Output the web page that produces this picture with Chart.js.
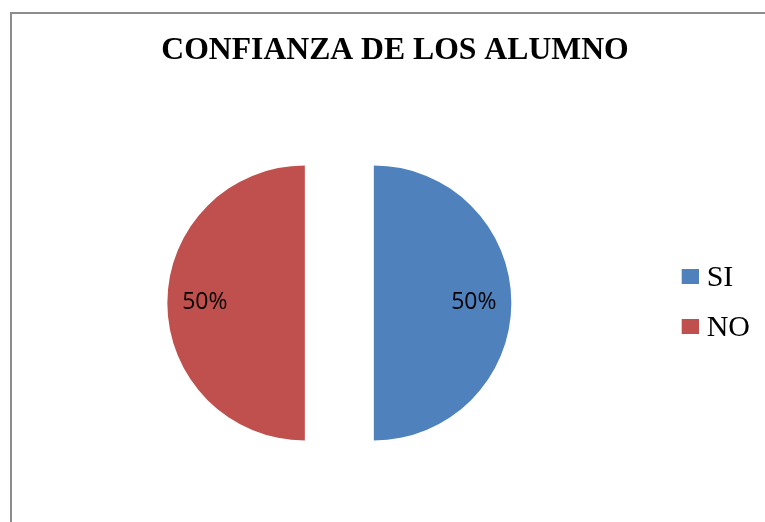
<!DOCTYPE html>
<html>
<head>
<meta charset="utf-8">
<script src="https://cdn.jsdelivr.net/npm/chart.js@4.4.0/dist/chart.umd.min.js"></script>
<style>
  html, body { margin: 0; padding: 0; background: #fff; overflow: hidden; }
  #frame { position: absolute; left: 10px; top: 12px; width: 800px; height: 600px; border: 2px solid #8c8c8c; }
  #myChart { position: absolute; left: 0; top: 0; }
</style>
</head>
<body>
<div id="frame"></div>
<canvas id="myChart" width="765" height="522"></canvas>
<script>
const chartTitle = 'CONFIANZA DE LOS ALUMNO';
const categories = ['SI', 'NO'];
const values = [50, 50];
const colors = ['#4F81BD', '#C0504D'];

// exploded halves: offset moves each half 34.5px out, the negative spacing
// cancels the angle trimming so the cut edges stay straight
const sliceOffset = 138;
const sliceSpacing = -3.4514;
const pieRadius = 104.73;

// legend swatch, drawn right of the default box spot
function swatch(color) {
    const c = document.createElement('canvas');
    c.width = 37;
    c.height = 18;
    const g = c.getContext('2d');
    g.fillStyle = color;
    g.fillRect(20, 0, 17, 15);
    return c;
}

const pctLabels = {
    id: 'pctLabels',
    afterDatasetsDraw(chart) {
        const ctx = chart.ctx;
        const meta = chart.getDatasetMeta(0);
        const total = values.reduce((a, b) => a + b, 0);
        ctx.save();
        ctx.font = '23px "Open Sans"';
        ctx.fillStyle = '#000';
        ctx.textAlign = 'center';
        ctx.textBaseline = 'middle';
        meta.data.forEach((arc, i) => {
            const p = arc.getProps(['x', 'y', 'startAngle', 'endAngle'], true);
            const mid = (p.startAngle + p.endAngle) / 2;
            const shift = sliceOffset / 4;
            const dist = shift + 137.5 * 0.727;
            const txt = Math.round(values[i] / total * 100) + '%';
            ctx.fillText(txt, p.x + Math.cos(mid) * dist, p.y + Math.sin(mid) * dist);
        });
        ctx.restore();
    }
};

window.addEventListener('load', setup);

function setup() {
    const ctx = document.getElementById('myChart').getContext('2d');
    const baseLabels = (Chart.overrides.pie || Chart.overrides.doughnut).plugins.legend.labels.generateLabels;
    new Chart(ctx, {
        type: 'pie',
        data: {
            labels: categories,
            datasets: [{
                data: values,
                backgroundColor: colors,
                borderWidth: 0,
                offset: sliceOffset,
                spacing: sliceSpacing,
                hoverOffset: 0
            }]
        },
        options: {
            responsive: false,
            animation: false,
            devicePixelRatio: 1,
            radius: pieRadius,
            layout: { padding: { left: 30, right: 5, top: 0, bottom: 6.4 } },
            plugins: {
                title: {
                    display: true,
                    text: chartTitle,
                    color: '#000',
                    font: { family: '"Liberation Serif", "Times New Roman", serif', size: 31.7, weight: 'bold' },
                    padding: { top: 32.2, bottom: 20 }
                },
                legend: {
                    position: 'right',
                    title: { display: true, text: '', font: { size: 12 }, padding: { top: 76, bottom: 0 } },
                    labels: {
                        color: '#000',
                        boxWidth: 23,
                        boxHeight: 15,
                        usePointStyle: true,
                        pointStyleWidth: 23,
                        padding: 20,
                        font: { family: '"Liberation Serif", "Times New Roman", serif', size: 30 },
                        generateLabels(chart) {
                            const items = baseLabels(chart);
                            items.forEach((it, i) => { it.pointStyle = swatch(colors[i]); });
                            return items;
                        }
                    }
                },
                tooltip: { enabled: false }
            }
        },
        plugins: [pctLabels]
    });
}
</script>
</body>
</html>
